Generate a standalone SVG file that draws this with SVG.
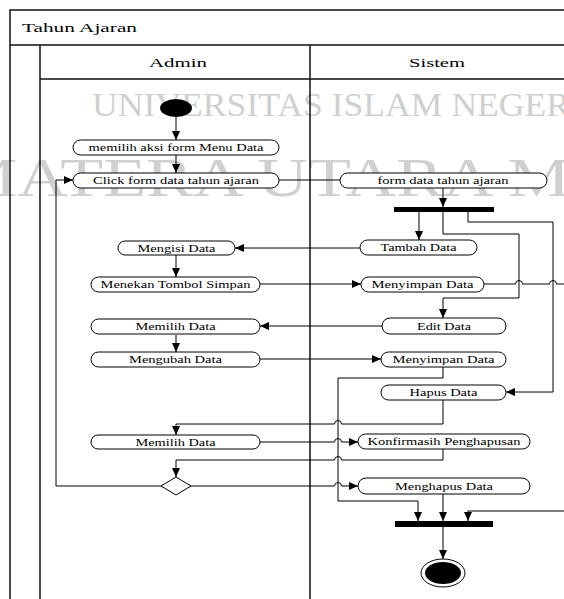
<svg xmlns="http://www.w3.org/2000/svg" width="564" height="599" viewBox="0 0 564 599">
<style>
.wm{font-family:"Liberation Serif","Times New Roman",serif;fill:#d0d0d0}
.lane{stroke:#111;stroke-width:1.5;fill:none}
.hd{font-family:"Liberation Serif","Times New Roman",serif;font-size:13px;fill:#000}
.node rect{fill:#fff;stroke:#000;stroke-width:1}
.node text{font-family:"Liberation Serif","Times New Roman",serif;font-size:10px;fill:#000;text-anchor:middle}
.c{fill:none;stroke:#000;stroke-width:1}
.ca{fill:none;stroke:#000;stroke-width:1;marker-end:url(#ah)}
</style>
<defs>
<marker id="ah" markerUnits="userSpaceOnUse" markerWidth="9" markerHeight="8" refX="9" refY="4" orient="auto">
<path d="M0,0 L9,4 L0,8 z" fill="#000"/>
</marker>
</defs>
<rect width="564" height="599" fill="#fff"/>
<g id="watermark">
<text class="wm" x="92" y="116" font-size="34" textLength="490" lengthAdjust="spacingAndGlyphs">UNIVERSITAS ISLAM NEGERI</text>
<text class="wm" x="-135" y="196" font-size="54" textLength="900" lengthAdjust="spacingAndGlyphs">SUMATERA UTARA MEDAN</text>
</g>
<g id="swimlanes">
<path class="lane" d="M10,599 V10 H564 M10,45 H564 M40,45 V599 M40,79 H564 M310,45 V599"/>
<text class="hd" x="22" y="32" textLength="115" lengthAdjust="spacingAndGlyphs">Tahun Ajaran</text>
<text class="hd" x="178" y="67" text-anchor="middle" textLength="58" lengthAdjust="spacingAndGlyphs">Admin</text>
<text class="hd" x="437" y="67" text-anchor="middle" textLength="56" lengthAdjust="spacingAndGlyphs">Sistem</text>
</g>
<g id="connectors">
<path class="ca" d="M176,117 V140"/>
<path class="ca" d="M176,155 V173"/>
<path class="c" d="M279,180 H340"/>
<path class="ca" d="M443,188 V207"/>
<path class="ca" d="M419,212 V240"/>
<path class="ca" d="M443,212 V234 H519 V298 H443 V318"/>
<path class="ca" d="M468,212 V222 H553 V392 H506"/>
<path class="ca" d="M360,248 H235"/>
<path class="ca" d="M176,255 V277"/>
<path class="ca" d="M260,284 H361"/>
<path class="c" d="M484,284 H515.5 A3.5,3.5 0 0 1 522.5,284 H549.5 A3.5,3.5 0 0 1 556.5,284 H564"/>
<path class="ca" d="M564,511 H468 V521"/>
<path class="ca" d="M382,326 H260"/>
<path class="ca" d="M176,335 V352"/>
<path class="ca" d="M260,359 H381"/>
<path class="ca" d="M443,367 V378 H338 V501 H418 V521"/>
<path class="ca" d="M443,400 V424 H341.5 A3.5,3.5 0 0 0 334.5,424 H176 V435"/>
<path class="ca" d="M260,442 H334.5 A3.5,3.5 0 0 1 341.5,442 H358"/>
<path class="ca" d="M443,449 V460 H341.5 A3.5,3.5 0 0 0 334.5,460 H176 V477"/>
<path class="ca" d="M191,486 H334.5 A3.5,3.5 0 0 1 341.5,486 H358"/>
<path class="ca" d="M161,486 H56 V180 H73"/>
<path class="ca" d="M443,494 V521"/>
<path class="ca" d="M443,527 V559"/>
</g>
<g id="start"><ellipse cx="176" cy="108" rx="16" ry="9" fill="#000"/></g>
<g id="n_memilih_aksi" class="node"><rect x="73" y="140" width="206" height="15" rx="7.5"/><text x="176" y="151" textLength="175" lengthAdjust="spacingAndGlyphs">memilih aksi form Menu Data</text></g>
<g id="n_click" class="node"><rect x="73" y="173" width="206" height="15" rx="7.5"/><text x="176" y="184" textLength="166" lengthAdjust="spacingAndGlyphs">Click form data tahun ajaran</text></g>
<g id="n_form" class="node"><rect x="340" y="173" width="207" height="15" rx="7.5"/><text x="443" y="184" textLength="131" lengthAdjust="spacingAndGlyphs">form data tahun ajaran</text></g>
<g id="fork"><rect x="394" y="207" width="100" height="5" fill="#000"/></g>
<g id="n_tambah" class="node"><rect x="360" y="240" width="117" height="15" rx="7.5"/><text x="418.5" y="251" textLength="76" lengthAdjust="spacingAndGlyphs">Tambah Data</text></g>
<g id="n_mengisi" class="node"><rect x="118" y="241" width="117" height="14" rx="7"/><text x="176.5" y="251.5" textLength="78" lengthAdjust="spacingAndGlyphs">Mengisi Data</text></g>
<g id="n_menekan" class="node"><rect x="91" y="277" width="169" height="15" rx="7.5"/><text x="175.5" y="288" textLength="150" lengthAdjust="spacingAndGlyphs">Menekan Tombol Simpan</text></g>
<g id="n_menyimpan1" class="node"><rect x="361" y="277" width="123" height="15" rx="7.5"/><text x="422.5" y="288" textLength="102" lengthAdjust="spacingAndGlyphs">Menyimpan Data</text></g>
<g id="n_edit" class="node"><rect x="382" y="318" width="124" height="16" rx="8"/><text x="444" y="329.5" textLength="54" lengthAdjust="spacingAndGlyphs">Edit Data</text></g>
<g id="n_memilih1" class="node"><rect x="91" y="319" width="169" height="15" rx="7.5"/><text x="175.5" y="330" textLength="80" lengthAdjust="spacingAndGlyphs">Memilih Data</text></g>
<g id="n_mengubah" class="node"><rect x="91" y="352" width="169" height="15" rx="7.5"/><text x="175.5" y="363" textLength="93" lengthAdjust="spacingAndGlyphs">Mengubah Data</text></g>
<g id="n_menyimpan2" class="node"><rect x="381" y="352" width="125" height="15" rx="7.5"/><text x="443.5" y="363" textLength="102" lengthAdjust="spacingAndGlyphs">Menyimpan Data</text></g>
<g id="n_hapus" class="node"><rect x="381" y="385" width="125" height="15" rx="7.5"/><text x="443.5" y="396" textLength="68" lengthAdjust="spacingAndGlyphs">Hapus Data</text></g>
<g id="n_memilih2" class="node"><rect x="91" y="435" width="169" height="14" rx="7"/><text x="175.5" y="445.5" textLength="80" lengthAdjust="spacingAndGlyphs">Memilih Data</text></g>
<g id="n_konfirmasi" class="node"><rect x="358" y="434" width="172" height="15" rx="7.5"/><text x="444" y="445" textLength="153" lengthAdjust="spacingAndGlyphs">Konfirmasih Penghapusan</text></g>
<g id="decision"><path d="M176,477 L191,486 L176,495 L161,486 Z" fill="#fff" stroke="#000" stroke-width="1"/></g>
<g id="n_menghapus" class="node"><rect x="358" y="478" width="172" height="16" rx="8"/><text x="444" y="489.5" textLength="98" lengthAdjust="spacingAndGlyphs">Menghapus Data</text></g>
<g id="join"><rect x="395" y="521" width="98" height="6" fill="#000"/></g>
<g id="end"><ellipse cx="443" cy="573" rx="22" ry="14" fill="#fff" stroke="#000" stroke-width="1"/><ellipse cx="443" cy="573" rx="18" ry="11" fill="#000"/></g>
</svg>
